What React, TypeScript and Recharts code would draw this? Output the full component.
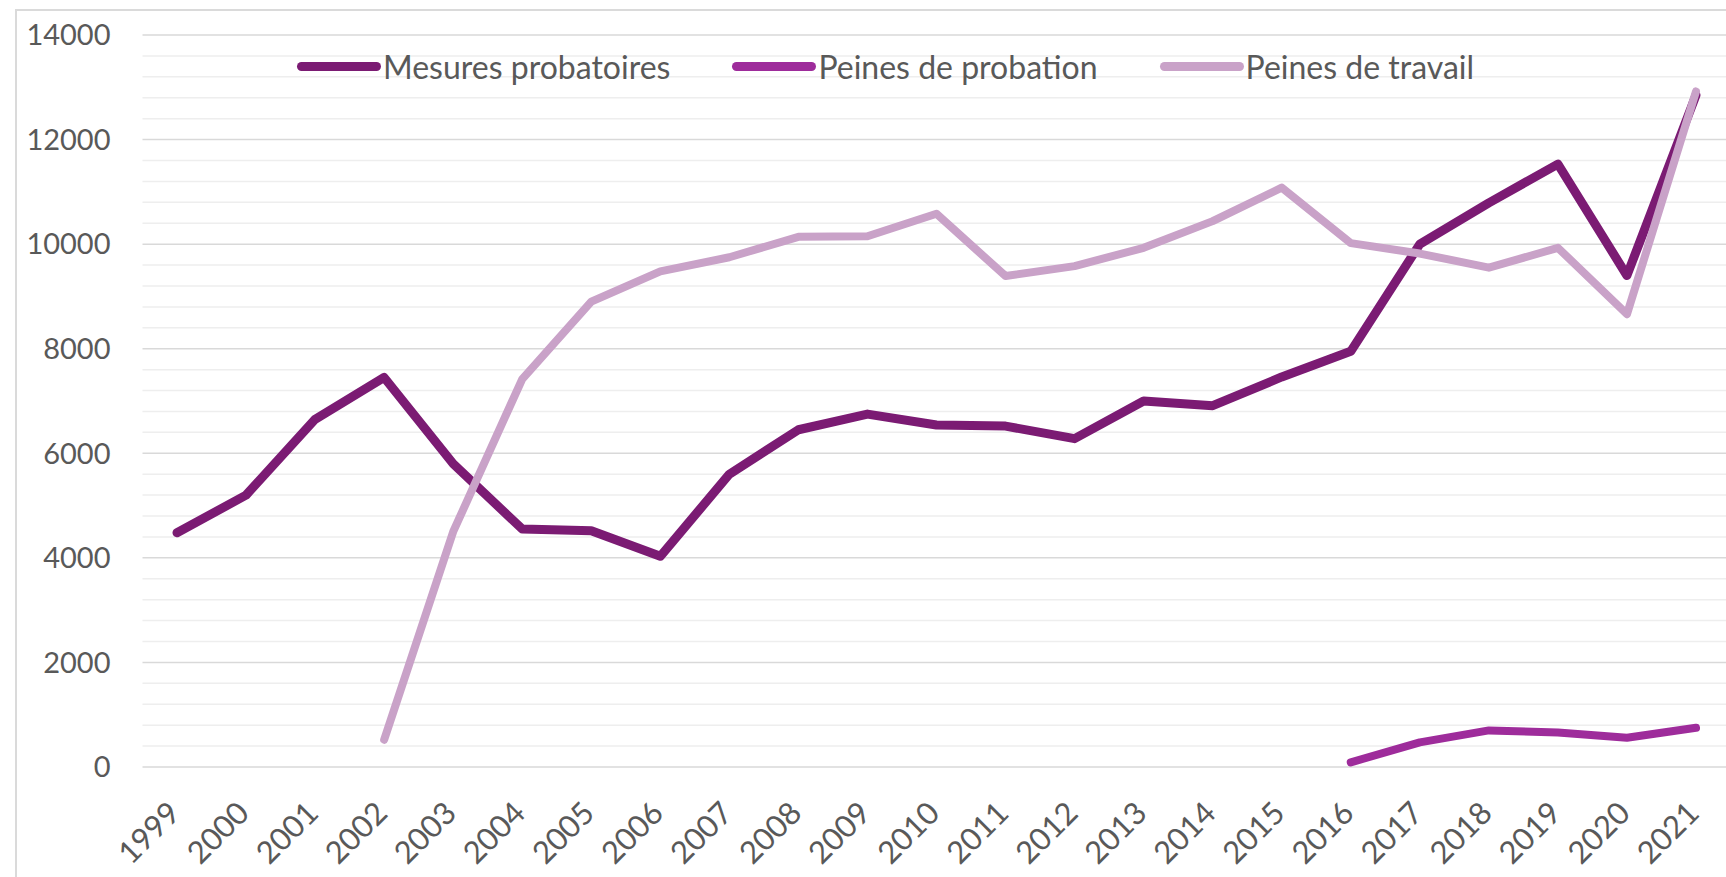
import React from 'react';
import { LineChart, Line, XAxis, YAxis, CartesianGrid, ReferenceLine, Legend } from 'recharts';

const years = [
  '1999', '2000', '2001', '2002', '2003', '2004', '2005', '2006', '2007', '2008', '2009', '2010',
  '2011', '2012', '2013', '2014', '2015', '2016', '2017', '2018', '2019', '2020', '2021',
];

const mesuresProbatoires = [
  4480, 5200, 6650, 7450, 5800, 4550, 4520, 4030, 5600, 6450, 6750, 6540,
  6520, 6280, 7000, 6910, 7460, 7950, 10000, 10790, 11530, 9400, 12850,
];

const peinesProbation = [
  null, null, null, null, null, null, null, null, null, null, null, null,
  null, null, null, null, null, 90, 470, 700, 660, 560, 750,
];

const peinesTravail = [
  null, null, null, 520, 4500, 7420, 8900, 9480, 9750, 10140, 10150, 10580,
  9390, 9580, 9930, 10440, 11080, 10020, 9820, 9550, 9930, 8660, 12920,
];

const yTicks = [0, 2000, 4000, 6000, 8000, 10000, 12000, 14000];

// lignes secondaires tous les 400
const minorLines = Array.from({ length: 35 }, (_, i) => i * 400).filter((v) => v % 2000 !== 0);

const SERIES = [
  { key: 'mesures', name: 'Mesures probatoires', color: '#7b1b73', width: 9 },
  { key: 'probation', name: 'Peines de probation', color: '#9e2c9b', width: 8 },
  { key: 'travail', name: 'Peines de travail', color: '#c9a2c8', width: 8 },
];

const data = years.map((year, i) => ({
  year,
  mesures: mesuresProbatoires[i],
  probation: peinesProbation[i],
  travail: peinesTravail[i],
}));

const FONT = 'Lato, "Open Sans", sans-serif';
const TEXT = '#595959';

const YearTick = ({ x, y, payload }: any) => (
  <g transform={`translate(${x},${y})`}>
    <text
      x={5}
      y={48}
      textAnchor="end"
      transform="rotate(-45 5 48)"
      fill={TEXT}
      fontSize={31}
      fontFamily={FONT}
    >
      {payload.value}
    </text>
  </g>
);

const renderLegend = () => (
  <div style={{ display: 'flex', alignItems: 'center', gap: 62, fontFamily: FONT, fontSize: 32, color: TEXT }}>
    {SERIES.map((s) => (
      <div key={s.key} style={{ display: 'flex', alignItems: 'center', whiteSpace: 'nowrap' }}>
        <span style={{ display: 'inline-block', width: 84, height: 9, borderRadius: 5, background: s.color }} />
        <span style={{ marginLeft: 2 }}>{s.name}</span>
      </div>
    ))}
  </div>
);

export default function App() {
  return (
    <div style={{ position: 'absolute', left: 0, top: 0, width: 1726, height: 877, overflow: 'hidden', background: '#fff' }}>
      <div
        style={{
          position: 'absolute',
          left: 15,
          top: 9,
          width: 1800,
          height: 1000,
          border: '2px solid #dadada',
        }}
      />
      <div style={{ position: 'absolute', left: 0, top: 0 }}>
        <LineChart width={1760} height={877} data={data} margin={{ top: 35, right: 29.5, bottom: 0, left: 32.5 }}>
          {minorLines.map((v) => (
            <ReferenceLine key={v} y={v} stroke="#eeeeee" strokeWidth={1.5} />
          ))}
          <CartesianGrid vertical={false} stroke="#d9d9d9" strokeWidth={1.5} />
          <XAxis
            dataKey="year"
            interval={0}
            height={110}
            padding={{ left: 34.5, right: 34.5 }}
            axisLine={false}
            tickLine={false}
            tickSize={0}
            tickMargin={0}
            tick={<YearTick />}
          />
          <YAxis
            domain={[0, 14000]}
            ticks={yTicks}
            width={110}
            axisLine={false}
            tickLine={false}
            tickSize={0}
            tickMargin={32}
            tick={{ fill: TEXT, fontSize: 29, fontFamily: FONT }}
          />
          <Legend
            layout="horizontal"
            verticalAlign="middle"
            align="center"
            content={renderLegend}
            wrapperStyle={{ top: 47, left: 297, width: 'auto' }}
          />
          {SERIES.map((s) => (
            <Line
              key={s.key}
              dataKey={s.key}
              name={s.name}
              type="linear"
              stroke={s.color}
              strokeWidth={s.width}
              strokeLinecap="round"
              strokeLinejoin="round"
              dot={false}
              activeDot={false}
              isAnimationActive={false}
            />
          ))}
        </LineChart>
      </div>
    </div>
  );
}
